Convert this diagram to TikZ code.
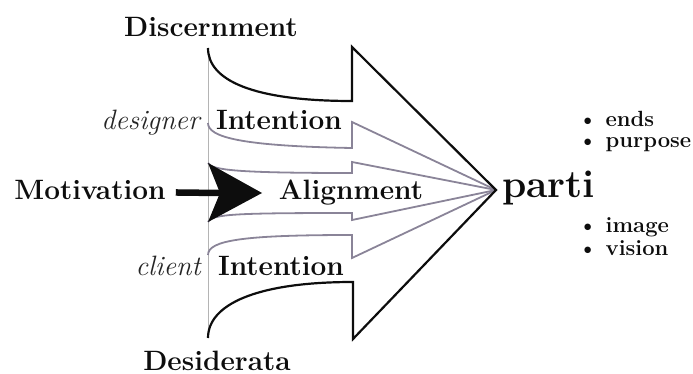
\documentclass[tikz,border=0pt]{standalone}
\usepackage{tikz}
\usetikzlibrary{positioning}
\definecolor{RichBlack}{rgb}{0.05, 0.05, 0.05}
\definecolor{SoftGrey}{RGB}{138, 132, 152}
\definecolor{RuleGrey}{RGB}{180, 180, 180}
\tikzset{%
  big_label/.style={%
    font={\fontsize{28}{32}\selectfont\bfseries},%
    text=RichBlack,%
    inner sep=0pt,%
  },
  side_label/.style={%
    font={\fontsize{28}{32}\selectfont\itshape},%
    text=RichBlack!90,%
    inner sep=0pt,%
  },
  goal_label/.style={%
    font={\fontsize{39}{44}\selectfont\bfseries},%
    text=RichBlack,%
    inner sep=0pt,%
  },
  bullet_label/.style={%
    font={\fontsize{22}{24}\selectfont\bfseries},%
    text=RichBlack,%
    inner sep=0pt,%
  },
  outline_path/.style={%
    draw=RichBlack,%
    line width=2.2pt,%
  },
  grey_path/.style={%
    draw=SoftGrey,%
    line width=1.8pt,%
  },
  rule_path/.style={%
    draw=RuleGrey,%
    line width=0.7pt,%
  },
  shaft/.style={%
    draw=RichBlack,%
    line width=6.5pt,%
  },
}
\begin{document}
\begin{tikzpicture}[x=1pt, y=-1pt]
    \useasboundingbox (0,0) rectangle (693,374);
    \coordinate (Tip) at (496,190);
    \coordinate (HeadTop) at (208,163);
    \coordinate (HeadTip) at (262,193);
    \coordinate (HeadBot) at (208,222);
    \coordinate (Notch) at (220,193);

    \draw [rule_path] (208,48) -- (208,338);

    \draw [grey_path]
      (208,123) .. controls (208,137) and (240,146) .. (352,148)
      -- (352,122) -- (Tip);
    \draw [grey_path]
      (HeadTop) .. controls (212,170) and (235,173) .. (352,173)
      -- (352,162) -- (Tip);
    \draw [grey_path]
      (HeadBot) .. controls (212,214) and (235,213) .. (352,213)
      -- (352,220) -- (Tip);
    \draw [grey_path]
      (208,255) .. controls (208,240) and (245,235) .. (352,235)
      -- (352,258) -- (Tip);

    \draw [outline_path]
      (208,48) .. controls (208,80) and (252,101) .. (352,101)
      -- (352,47)
      -- (Tip)
      -- (353,339)
      -- (353,282) .. controls (255,282) and (208,305) .. (208,338);

    \node [big_label, anchor=base] (Discernment) at (211,37) {Discernment};
    \node [big_label, anchor=base] (IntentionTop) at (279,130) {Intention};
    \node [side_label, base left=16pt of IntentionTop] (Designer) {designer};
    \node [big_label, anchor=base] (Motivation) at (90,200) {Motivation};
    \node [big_label, anchor=base] (Alignment) at (351,200) {Alignment};
    \node [big_label, anchor=base] (IntentionLow) at (281,275) {Intention};
    \node [side_label, base left=17pt of IntentionLow] (Client) {client};
    \node [big_label, anchor=base] (Desiderata) at (217,370) {Desiderata};
    \node [goal_label, anchor=base west] (Parti) at (502,197) {parti};

    \node [bullet_label, anchor=base west] (Ends) at (578,127) {\textbullet\ ends};
    \node [bullet_label, anchor=base west] (Purpose) at (578,148) {\textbullet\ purpose};
    \node [bullet_label, anchor=base west] (Image) at (578,233) {\textbullet\ image};
    \node [bullet_label, anchor=base west] (Vision) at (578,255) {\textbullet\ vision};

    \fill [RichBlack] (HeadTop) -- (HeadTip) -- (HeadBot) -- (Notch) -- cycle;
    \draw [shaft] ([xshift=10pt, yshift=-2pt]Motivation.east) -- (Notch);
  \end{tikzpicture}
\end{document}
